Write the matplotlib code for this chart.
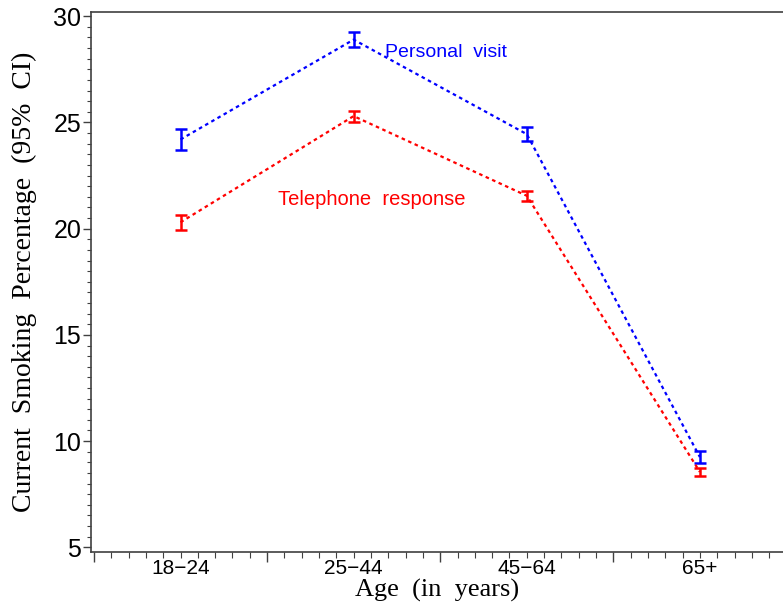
import matplotlib.pyplot as plt
import numpy as np
from matplotlib.ticker import MultipleLocator, FixedLocator

# data
ages = ['18\u221224', '25\u221244', '45\u221264', '65+']
visit_mean = [24.2, 28.9, 24.45, 9.25]
visit_err = [0.48, 0.35, 0.33, 0.27]
phone_mean = [20.3, 25.3, 21.55, 8.55]
phone_err = [0.34, 0.26, 0.24, 0.2]

plt.rcParams['font.family'] = 'Liberation Sans'

fig = plt.figure(figsize=(7.83, 6.07), dpi=100)
ax = fig.add_axes([91 / 783, 55 / 607, 692 / 783, 540 / 607])

x = np.arange(1, len(ages) + 1)

# line + error bar for each series
for mean, err, col in [(visit_mean, visit_err, '#0000ff'), (phone_mean, phone_err, '#ff0000')]:
    ax.plot(x, mean, color=col, lw=1.6, ls=(0, (1.6, 1.6)))
    ax.errorbar(x, mean, yerr=err, fmt='none', ecolor=col, elinewidth=1.8,
                capsize=4.5, capthick=1.8)

ax.text(2.184, 28.3, 'Personal  visit', color='#0000ff', fontsize=14, va='center')
ax.text(1.563, 21.38, 'Telephone  response', color='#ff0000', fontsize=14.5, va='center')

ax.set_xlim(0.483, 4.48)
ax.set_ylim(4.78, 30.2)

ax.xaxis.set_major_locator(FixedLocator([0.5, 1.5, 2.5, 3.5, 4.5]))
ax.xaxis.set_minor_locator(MultipleLocator(0.1))
ax.set_xticklabels([])
for xi, lab in zip(x, ages):
    ax.text(xi, -0.013, lab, transform=ax.get_xaxis_transform(), ha='center', va='top',
            fontsize=15)

ax.yaxis.set_major_locator(MultipleLocator(5))
ax.yaxis.set_minor_locator(MultipleLocator(0.5))
ax.tick_params(axis='y', which='major', length=6, width=1, labelsize=18, pad=1, color='#404040')
ax.tick_params(axis='y', which='minor', length=3, width=0.8, color='#404040')
ax.tick_params(axis='x', which='major', length=7, width=1, color='#404040')
ax.tick_params(axis='x', which='minor', length=4, width=0.8, color='#404040')

for side in ['left', 'bottom', 'top']:
    ax.spines[side].set_color('#404040')
    ax.spines[side].set_linewidth(1.2)
ax.spines['right'].set_visible(False)

ax.set_ylabel('Current  Smoking  Percentage  (95%  CI)', family='Liberation Serif', fontsize=20)
ax.yaxis.set_label_coords(-0.078, 0.5)
ax.set_xlabel('Age  (in  years)', family='Liberation Serif', fontsize=19)
ax.xaxis.set_label_coords(0.5, -0.05)

fig.savefig('out.png', dpi=100)
